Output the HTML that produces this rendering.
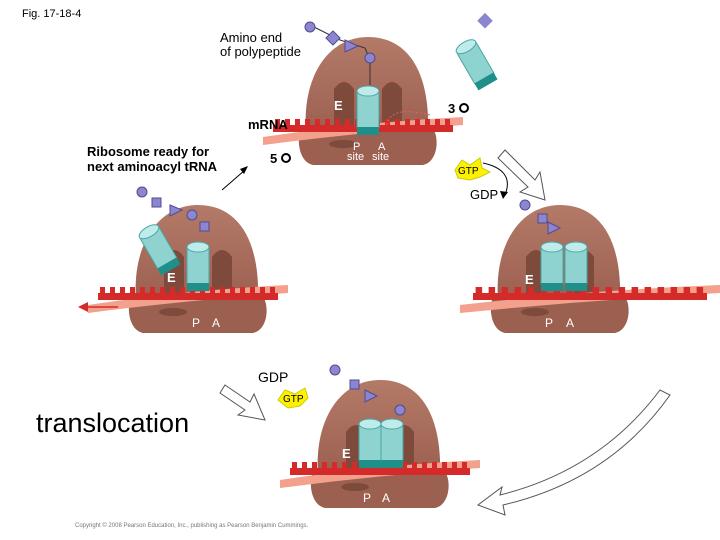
<!DOCTYPE html><html><head><style>body{margin:0;background:#fff}svg{display:block}text{font-family:"Liberation Sans",sans-serif}</style></head><body>
<svg width="720" height="540" viewBox="0 0 720 540" xmlns="http://www.w3.org/2000/svg">
<defs>
<linearGradient id="rg" x1="0" y1="0" x2="0" y2="1"><stop offset="0" stop-color="#b47a68"/><stop offset="1" stop-color="#9c6050"/></linearGradient>
<g id="ribo">
<path d="M-62,95 C-66,40 -40,0 0,0 C40,0 62,35 60,95 Z" fill="url(#rg)"/>
<path d="M-66,90 L64,90 C72,100 70,125 55,128 L-55,128 C-70,125 -72,100 -66,90Z" fill="#9c6050"/>
<path d="M-34,95 L-34,52 Q-24,38 -14,52 L-14,95Z" fill="#7e4a3c"/>
<path d="M14,95 L14,52 Q24,38 34,52 L34,95Z" fill="#7e4a3c"/>
<ellipse cx="-25" cy="107" rx="14" ry="4" fill="#7e4a3c"/>
</g>
<g id="mrna">
<path d="M-100,100 Q0,85 100,80 L100,88 Q0,95 -100,108Z" fill="#f3a08c"/>
<rect x="-90" y="88" width="180" height="7" fill="#d42a2a"/>
<g fill="#d42a2a"><rect x="-88" y="82" width="5" height="8"/><rect x="-78" y="82" width="5" height="8"/><rect x="-68" y="82" width="5" height="8"/><rect x="-58" y="82" width="5" height="8"/><rect x="-48" y="82" width="5" height="8"/><rect x="-38" y="82" width="5" height="8"/><rect x="-28" y="82" width="5" height="8"/><rect x="-18" y="82" width="5" height="8"/><rect x="-8" y="82" width="5" height="8"/><rect x="2" y="82" width="5" height="8"/><rect x="12" y="82" width="5" height="8"/><rect x="22" y="82" width="5" height="8"/><rect x="32" y="82" width="5" height="8"/><rect x="42" y="82" width="5" height="8"/><rect x="52" y="82" width="5" height="8"/><rect x="62" y="82" width="5" height="8"/><rect x="72" y="82" width="5" height="8"/><rect x="82" y="82" width="5" height="8"/></g>
</g>
<g id="trna">
<rect x="-11" y="0" width="22" height="42" rx="4" fill="#8fd3d0" stroke="#4aa6a6"/>
<ellipse cx="0" cy="2" rx="11" ry="5" fill="#bfeceb" stroke="#4aa6a6"/>
<rect x="-11" y="38" width="22" height="8" fill="#1f8f8a"/>
</g>
</defs>
<text x="22" y="17" font-size="11">Fig. 17-18-4</text>

<g transform="translate(368,37)"><use href="#ribo"/><use href="#mrna" transform="translate(-5,0)"/><use href="#trna" x="0" y="52"/></g>
<text x="334" y="110" font-size="13" fill="#fff" font-weight="bold">E</text>
<text x="353" y="150" font-size="11" fill="#fff">P</text><text x="378" y="150" font-size="11" fill="#fff">A</text>
<text x="347" y="160" font-size="11" fill="#fff">site</text><text x="372" y="160" font-size="11" fill="#fff">site</text>
<g transform="translate(465,45) rotate(-30)"><use href="#trna"/></g>
<path d="M430,115 Q390,105 387,125" fill="none" stroke="#e06060" stroke-dasharray="2,2"/>
<text x="248" y="129" font-size="13" font-weight="bold">mRNA</text>
<text x="270" y="163" font-size="13" font-weight="bold">5</text><circle cx="286" cy="158" r="4" fill="none" stroke="#000" stroke-width="2"/>
<text x="448" y="113" font-size="13" font-weight="bold">3</text><circle cx="464" cy="108" r="4" fill="none" stroke="#000" stroke-width="2"/>
<text x="220" y="42" font-size="13">Amino end</text><text x="220" y="56" font-size="13">of polypeptide</text>
<text x="87" y="156" font-size="13" font-weight="bold">Ribosome ready for</text><text x="87" y="171" font-size="13" font-weight="bold">next aminoacyl tRNA</text>
<polyline points="310,25 340,40 365,48 370,60 370,85" fill="none" stroke="#333"/>
<g fill="#8c86d0" stroke="#504a90"><circle cx="310" cy="27" r="5"/><rect x="328" y="33" width="10" height="10" transform="rotate(45 333 38)"/><polygon points="345,40 358,46 345,52"/><circle cx="370" cy="58" r="5"/></g>
<rect x="480" y="15" width="11" height="11" fill="#8c86d0" transform="rotate(45 485 20)"/>

<polygon points="455,170 462,160 470,165 480,158 482,168 490,172 480,177 470,180 458,178" fill="#fff200" stroke="#cc0"/>
<text x="458" y="174" font-size="10">GTP</text>
<text x="470" y="199" font-size="13">GDP</text>
<path d="M483,163 Q515,170 505,195" fill="none" stroke="#000"/><polygon points="503,199 500,191 508,192"/>
<path d="M505,150 L535,180 L540,172 L545,200 L520,192 L528,187 L498,158Z" fill="#fff" stroke="#555"/>

<g transform="translate(560,205)"><use href="#ribo"/><use href="#mrna" transform="translate(30,0) scale(1.3,1)"/><use href="#trna" x="-8" y="40"/><use href="#trna" x="16" y="40"/></g>
<text x="525" y="284" font-size="13" fill="#fff" font-weight="bold">E</text>
<text x="545" y="327" font-size="12" fill="#fff">P</text><text x="566" y="327" font-size="12" fill="#fff">A</text>
<g fill="#8c86d0" stroke="#504a90"><circle cx="525" cy="205" r="5"/><rect x="538" y="214" width="9" height="9"/><polygon points="548,222 560,228 548,234"/></g>

<g transform="translate(380,380)"><use href="#ribo"/><use href="#mrna"/><use href="#trna" x="-10" y="42"/><use href="#trna" x="12" y="42"/></g>
<text x="342" y="458" font-size="13" fill="#fff" font-weight="bold">E</text>
<text x="363" y="502" font-size="12" fill="#fff">P</text><text x="382" y="502" font-size="12" fill="#fff">A</text>
<g fill="#8c86d0" stroke="#504a90"><circle cx="335" cy="370" r="5"/><rect x="350" y="380" width="9" height="9"/><polygon points="365,390 377,396 365,402"/><circle cx="400" cy="410" r="5"/></g>
<text x="258" y="382" font-size="14">GDP</text>
<polygon points="278,400 285,390 295,394 305,388 308,398 300,406 288,408" fill="#fff200" stroke="#cc0"/>
<text x="283" y="402" font-size="10">GTP</text>
<text x="36" y="432" font-size="27">translocation</text>
<path d="M225,385 L250,402 L254,394 L265,420 L238,415 L245,410 L220,393Z" fill="#fff" stroke="#555"/>
<path d="M660,390 Q600,470 500,495 L502,487 L478,505 L505,515 L503,505 Q610,480 670,395Z" fill="#fff" stroke="#555"/>

<g transform="translate(198,205)"><use href="#ribo"/><use href="#mrna" transform="translate(-10,0)"/><use href="#trna" x="0" y="40"/><g transform="translate(-50,25) rotate(-30)"><use href="#trna"/></g></g>
<text x="167" y="282" font-size="13" fill="#fff" font-weight="bold">E</text>
<text x="192" y="327" font-size="12" fill="#fff">P</text><text x="212" y="327" font-size="12" fill="#fff">A</text>
<g fill="#8c86d0" stroke="#504a90"><circle cx="142" cy="192" r="5"/><rect x="152" y="198" width="9" height="9"/><polygon points="170,205 182,210 170,216"/><circle cx="192" cy="215" r="5"/><rect x="200" y="222" width="9" height="9"/></g>
<line x1="80" y1="307" x2="118" y2="307" stroke="#d42a2a" stroke-width="1.5"/><polygon points="78,307 88,302 88,312" fill="#d42a2a"/>
<line x1="222" y1="190" x2="245" y2="170" stroke="#000"/><polygon points="248,166 240,169 244,174"/>
<text x="75" y="527" font-size="6" fill="#777">Copyright © 2008 Pearson Education, Inc., publishing as Pearson Benjamin Cummings.</text>
</svg></body></html>
